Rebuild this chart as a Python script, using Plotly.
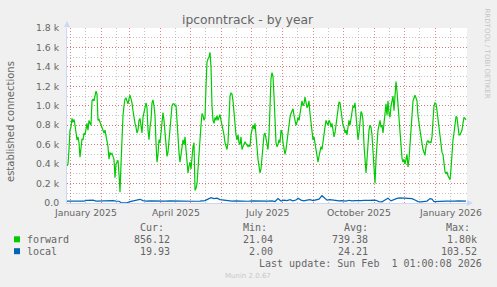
import plotly.graph_objects as go
import pandas as pd

# ---------------- data ----------------
start = pd.Timestamp("2024-12-29")
n_days = 400

# forward: one value per day (k connections), starting at `start`
forward_k = [
    0.38, 0.40, 0.55, 0.75, 0.78, 0.87, 0.83, 0.86, 0.80, 0.70,
    0.65, 0.68, 0.62, 0.47, 0.60, 0.66, 0.65, 0.72, 0.70, 0.78,
    0.82, 0.75, 0.85, 0.82, 0.80, 1.05, 1.07, 1.05, 1.10, 1.15,
    1.12, 0.85, 0.86, 0.83, 0.80, 0.78, 0.75, 0.72, 0.75, 0.68,
    0.62, 0.58, 0.45, 0.52, 0.50, 0.51, 0.48, 0.45, 0.26, 0.40,
    0.42, 0.44, 0.30, 0.11, 0.40, 0.75, 0.90, 1.00, 1.07, 1.08,
    1.05, 1.02, 1.07, 1.11, 1.07, 1.03, 0.95, 0.85, 0.82, 0.78,
    0.72, 0.75, 0.85, 0.87, 0.80, 0.72, 0.88, 0.95, 0.98, 1.03,
    0.98, 0.75, 0.65, 0.78, 0.85, 1.03, 1.06, 1.00, 0.90, 0.62,
    0.42, 0.50, 0.65, 0.62, 0.75, 0.85, 0.93, 0.85, 0.70, 0.55,
    0.48, 0.52, 0.65, 0.78, 0.88, 1.00, 1.02, 1.02, 1.00, 1.01,
    0.85, 0.65, 0.52, 0.42, 0.50, 0.58, 0.65, 0.60, 0.68, 0.55,
    0.42, 0.31, 0.38, 0.42, 0.35, 0.48, 0.58, 0.62, 0.13, 0.15,
    0.20, 0.35, 0.55, 0.70, 0.80, 0.92, 0.90, 0.85, 0.88, 1.20,
    1.45, 1.48, 1.50, 1.55, 1.40, 1.00, 0.85, 0.82, 0.88, 0.85,
    0.90, 0.85, 0.88, 0.91, 0.85, 0.80, 0.78, 0.70, 0.62, 0.58,
    0.55, 0.62, 0.90, 1.10, 1.13, 1.12, 1.05, 0.90, 0.78, 0.70,
    0.65, 0.70, 0.62, 0.60, 0.68, 0.55, 0.58, 0.62, 0.63, 0.61,
    0.60, 0.58, 0.60, 0.58, 0.70, 0.78, 0.80, 0.76, 0.82, 0.70,
    0.55, 0.45, 0.38, 0.31, 0.35, 0.45, 0.60, 0.70, 0.72, 0.65,
    0.60, 0.55, 0.70, 1.00, 1.28, 1.34, 1.30, 1.10, 0.85, 0.62,
    0.58, 0.60, 0.65, 0.62, 0.75, 0.73, 0.62, 0.55, 0.50, 0.55,
    0.65, 0.75, 0.82, 0.88, 0.92, 0.95, 0.97, 0.90, 0.82, 0.80,
    0.83, 0.88, 0.85, 0.92, 0.98, 1.05, 1.00, 1.02, 1.09, 1.02,
    0.98, 1.00, 1.05, 0.92, 0.80, 0.72, 0.65, 0.68, 0.60, 0.55,
    0.48, 0.42, 0.48, 0.55, 0.58, 0.55, 0.65, 0.70, 0.78, 0.85,
    0.82, 0.80, 0.85, 0.83, 0.78, 0.82, 0.75, 0.68, 0.72, 0.80,
    0.88, 0.98, 1.04, 1.03, 0.95, 0.88, 0.80, 0.78, 0.72, 0.75,
    0.70, 0.78, 0.85, 0.80, 0.88, 0.95, 1.00, 0.98, 1.03, 0.90,
    0.78, 0.65, 0.72, 0.88, 0.94, 0.92, 0.85, 0.60, 0.45, 0.31,
    0.45, 0.62, 0.75, 0.80, 0.78, 0.70, 0.55, 0.35, 0.20, 0.45,
    0.62, 0.75, 0.80, 0.85, 0.78, 0.80, 0.72, 0.85, 0.98, 1.02,
    0.90, 1.05, 0.92, 0.88, 1.00, 1.05, 1.10, 0.95, 1.15, 1.25,
    1.15, 1.02, 0.85, 0.70, 0.55, 0.46, 0.42, 0.45, 0.40, 0.48,
    0.50, 0.37, 0.45, 0.60, 0.80, 0.95, 1.05, 1.08, 1.11, 1.08,
    1.05, 0.90, 0.80, 0.75, 0.68, 0.60, 0.55, 0.52, 0.49, 0.58,
    0.63, 0.64, 0.62, 0.63, 0.62, 0.68, 0.85, 1.00, 1.03, 1.02,
    0.95, 0.85, 0.75, 0.65, 0.58, 0.52, 0.50, 0.40, 0.32, 0.30,
    0.32, 0.28, 0.26, 0.24, 0.35, 0.55, 0.65, 0.72, 0.82, 0.89,
    0.88, 0.80, 0.70, 0.70, 0.72, 0.75, 0.82, 0.88, 0.87, 0.856,
]

# local: day offsets from `start` and values (connections)
local_days = [0, 3, 8, 13, 17, 20, 23, 26, 29, 33, 38, 43, 46, 49, 52, 54, 57, 60,
              63, 67, 70, 73, 76, 79, 83, 88, 93, 98, 103, 108, 113, 118, 123, 128,
              133, 138, 141, 144, 147, 150, 153, 157, 161, 165, 169, 173, 177, 181,
              185, 189, 193, 197, 201, 205, 208, 211, 214, 217, 220, 223, 226, 229,
              231, 234, 237, 240, 243, 246, 249, 252, 255, 257, 260, 263, 266, 269,
              272, 275, 279, 282, 285, 288, 291, 294, 297, 300, 303, 306, 309, 312,
              315, 318, 321, 324, 327, 330, 333, 336, 339, 342, 345, 348, 351, 354,
              357, 360, 363, 365, 367, 370, 373, 376, 379, 382, 385, 388, 391, 394,
              397, 399]
local_vals = [20, 20, 20, 18, 20, 28, 32, 30, 20, 22, 20, 20, 25, 20, 18, 5, 3, 2,
              15, 22, 35, 38, 25, 20, 22, 20, 22, 20, 22, 20, 22, 18, 20, 18,
              20, 25, 40, 55, 45, 50, 35, 28, 25, 20, 22, 20, 22, 18, 22,
              20, 20, 18, 20, 22, 15, 45, 20, 30, 25, 35, 22, 30, 48, 30,
              22, 30, 35, 25, 30, 40, 75, 60, 30, 35, 30, 28, 22, 25, 20,
              28, 22, 25, 22, 25, 28, 25, 28, 30, 28, 15, 12, 30, 48, 22,
              35, 48, 52, 50, 45, 40, 45, 30, 15, 12, 15, 20, 45, 40, 15,
              18, 18, 20, 20, 20, 18, 20, 22, 20, 20, 20]

y_tickvals = [0, 200, 400, 600, 800, 1000, 1200, 1400, 1600, 1800]
y_ticktext = ["0.0", "0.2 k", "0.4 k", "0.6 k", "0.8 k", "1.0 k",
              "1.2 k", "1.4 k", "1.6 k", "1.8 k"]
x_label_months = ["2025-01-01", "2025-04-01", "2025-07-01", "2025-10-01", "2026-01-01"]
x_label_text = ["January 2025", "April 2025", "July 2025", "October 2025", "January 2026"]

series_names = ["forward", "local"]
series_colors = ["#00CC00", "#0066B3"]
cur_vals = ["856.12", "19.93"]
min_vals = ["21.04", "2.00"]
avg_vals = ["739.38", "24.21"]
max_vals = ["1.80k", "103.52"]
last_update = "Last update: Sun Feb  1 01:00:08 2026"

# ---------------- derived ----------------
forward_dates = [start + pd.Timedelta(days=i) for i in range(len(forward_k))]
forward_vals = [v * 1000 for v in forward_k]
local_dates = [start + pd.Timedelta(days=d) for d in local_days]
end = start + pd.Timedelta(days=n_days)

month_starts = pd.date_range("2025-01-01", "2026-02-01", freq="MS")
mid_months = [m + pd.Timedelta(days=15) for m in pd.date_range("2024-12-01", "2026-01-01", freq="MS")]

W, H = 497, 287
L, R, T, B = 67, 467, 28, 203  # plot area in px


def fx(x):
    return (x - L) / (R - L)


def fy(y):
    return (B - y) / (B - T)


FONT = "DejaVu Sans"
MONO = "DejaVu Sans Mono"
TXT = "#666666"
AXIS = "#CFD6F8"
MGRID = "rgba(220,90,90,0.75)"
GRID = "rgba(160,160,160,0.6)"

fig = go.Figure()
fig.add_trace(go.Scatter(x=forward_dates, y=forward_vals, mode="lines",
                         line=dict(color=series_colors[0], width=1.2),
                         hoverinfo="skip", showlegend=False))
fig.add_trace(go.Scatter(x=local_dates, y=local_vals, mode="lines",
                         line=dict(color=series_colors[1], width=1.2),
                         hoverinfo="skip", showlegend=False))

fig.update_layout(
    width=W, height=H,
    margin=dict(l=L, r=W - R, t=T, b=H - B),
    paper_bgcolor="#F0F0F0", plot_bgcolor="#FFFFFF",
    showlegend=False,
    font=dict(family=FONT, size=9.3, color=TXT),
)

fig.update_xaxes(
    type="date", range=[start, end],
    tickmode="array", tickvals=list(month_starts), ticktext=[""] * len(month_starts),
    showticklabels=False, ticks="",
    showgrid=True, gridcolor=MGRID, griddash="1px,2px", gridwidth=1,
    minor=dict(tickmode="array", tickvals=mid_months, showgrid=True,
               gridcolor=GRID, griddash="1px,2px", gridwidth=1, ticks=""),
    showline=True, linecolor=AXIS, linewidth=1, zeroline=False,
    fixedrange=True,
)
fig.update_yaxes(
    range=[0, 1800], tickmode="array", tickvals=y_tickvals, ticktext=y_ticktext,
    ticks="outside", ticklen=5, tickcolor="rgba(0,0,0,0)",
    tickfont=dict(family=FONT, size=9.3, color=TXT),
    showgrid=True, gridcolor=MGRID, griddash="1px,2px", gridwidth=1,
    minor=dict(dtick=100, tick0=0, showgrid=True, gridcolor=GRID,
               griddash="1px,2px", gridwidth=1, ticks=""),
    showline=True, linecolor=AXIS, linewidth=1, zeroline=False,
    fixedrange=True,
)

ann = []
# x labels, centred half a month after each quarter start
for m, t in zip(x_label_months, x_label_text):
    ann.append(dict(x=pd.Timestamp(m) + pd.Timedelta(days=15.5), y=0, xref="x", yref="paper",
                    text=t, showarrow=False, yanchor="top", yshift=-2,
                    font=dict(family=FONT, size=9.3, color=TXT)))

# title
ann.append(dict(x=fx(247.5), y=fy(20), xref="paper", yref="paper",
                text="ipconntrack - by year", showarrow=False,
                xanchor="center", yanchor="middle",
                font=dict(family=FONT, size=12.3, color=TXT)))
# y axis title
ann.append(dict(x=fx(11), y=fy(121), xref="paper", yref="paper",
                text="established connections", showarrow=False, textangle=-90,
                xanchor="center", yanchor="middle",
                font=dict(family=FONT, size=10, color=TXT)))
# watermark
ann.append(dict(x=fx(487), y=fy(53.5), xref="paper", yref="paper",
                text="RRDTOOL / TOBI OETIKER", showarrow=False, textangle=90,
                xanchor="center", yanchor="middle",
                font=dict(family=FONT, size=7, color="#C4C4C4")))


def mono(text, x, y, anchor="right", size=10, color=TXT, family=MONO):
    return dict(x=fx(x + (2 if anchor == "right" else -2 if anchor == "left" else 0)),
                y=fy(y), xref="paper", yref="paper", text=text, showarrow=False,
                xanchor=anchor, yanchor="middle",
                font=dict(family=family, size=size, color=color))


# legend header
ann.append(mono("Cur:", 163.5, 227.7))
ann.append(mono("Min:", 267, 227.7))
ann.append(mono("Avg:", 368.3, 227.7))
ann.append(mono("Max:", 470, 227.7))
rows_y = [239.3, 251.2]
for i in range(2):
    yy = rows_y[i]
    ann.append(mono(series_names[i], 27, yy, anchor="left"))
    ann.append(mono(cur_vals[i], 170, yy))
    ann.append(mono(min_vals[i], 273.3, yy))
    ann.append(mono(avg_vals[i], 368.3, yy))
    ann.append(mono(max_vals[i], 477, yy))
ann.append(mono(last_update, 482.3, 263.3))
ann.append(mono("Munin 2.0.67", 248, 276.3, anchor="center", size=7, color="#C8C8C8", family=FONT))

shapes = []
# legend colour boxes
for i in range(2):
    yy = rows_y[i]
    shapes.append(dict(type="rect", xref="paper", yref="paper",
                       x0=fx(14), x1=fx(20), y0=fy(yy - 3), y1=fy(yy + 3),
                       fillcolor=series_colors[i], line=dict(width=0)))
# axis arrows
shapes.append(dict(type="path", xref="paper", yref="paper",
                   path=f"M {fx(64)},{fy(27)} L {fx(70)},{fy(27)} L {fx(67)},{fy(21)} Z",
                   fillcolor=AXIS, line=dict(width=0)))
shapes.append(dict(type="path", xref="paper", yref="paper",
                   path=f"M {fx(467)},{fy(200)} L {fx(467)},{fy(206)} L {fx(473)},{fy(203)} Z",
                   fillcolor=AXIS, line=dict(width=0)))

fig.update_layout(annotations=ann, shapes=shapes)

fig.write_html("out.html", config={"displayModeBar": False, "staticPlot": True})
